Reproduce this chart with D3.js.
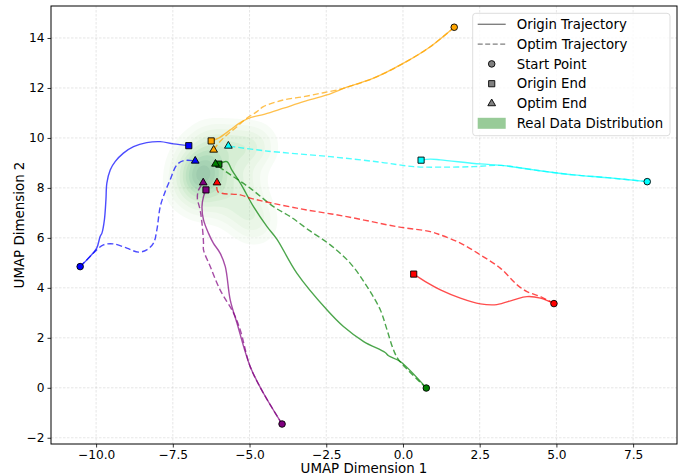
<!DOCTYPE html>
<html>
<head>
<meta charset="utf-8">
<script src="https://cdn.jsdelivr.net/npm/d3@7"></script>
<style>
  body { margin: 0; background: #fff; }
  text { font-family: 'DejaVu Sans', sans-serif; fill: #000; }
</style>
</head>
<body>
<svg id="chart"></svg>
<script>
// ---- data (UMAP coordinates) ----
const xTicks = [-10, -7.5, -5, -2.5, 0, 2.5, 5, 7.5];
const yTicks = [-2, 0, 2, 4, 6, 8, 10, 12, 14];

const blueOrigin = [[-10.52,4.85],[-10.2,5.25],[-9.98,5.59],[-9.87,6.05],[-9.81,6.19],[-9.73,6.72],[-9.68,7.52],[-9.65,8.19],[-9.54,8.72],[-9.38,9.05],[-9.11,9.39],[-8.78,9.65],[-8.35,9.81],[-7.91,9.85],[-7.48,9.76],[-6.98,9.69]];
const blueOptim = [[-10.52,4.85],[-10.2,5.25],[-9.98,5.52],[-9.76,5.72],[-9.44,5.76],[-9.0,5.59],[-8.62,5.43],[-8.35,5.52],[-8.13,5.79],[-8.02,6.32],[-7.91,7.25],[-7.75,7.85],[-7.59,8.32],[-7.37,8.92],[-7.15,9.09],[-6.77,9.08]];

const orangeOrigin = [[1.67,14.43],[0.89,13.65],[0.02,12.99],[-0.96,12.39],[-1.83,12.03],[-2.48,11.72],[-3.24,11.45],[-3.89,11.19],[-4.5,10.95],[-4.95,10.82],[-5.25,10.65],[-5.63,10.32],[-6.01,9.99],[-6.25,9.88]];
const orangeOptim = [[1.67,14.43],[0.89,13.65],[0.02,12.99],[-0.96,12.39],[-1.83,12.03],[-2.04,11.95],[-2.59,11.81],[-3.24,11.65],[-3.89,11.52],[-4.55,11.25],[-4.76,11.05],[-5.09,10.79],[-5.41,10.45],[-5.74,10.12],[-6.01,9.79],[-6.17,9.52]];

const cyanOrigin = [[7.96,8.25],[6.65,8.41],[5.56,8.52],[4.26,8.72],[3.28,8.89],[2.52,8.96],[1.22,9.12],[0.89,9.15],[0.59,9.11]];
const cyanOptim = [[7.96,8.25],[6.65,8.41],[5.56,8.52],[4.26,8.72],[3.2,8.9],[2.3,8.85],[1.22,8.83],[0.35,8.85],[-0.74,9.03],[-2.37,9.25],[-4.55,9.49],[-5.69,9.68]];

const greenOrigin = [[0.76,-0.01],[-0.09,1.05],[-0.47,1.28],[-0.58,1.41],[-1.28,1.85],[-1.94,2.45],[-2.48,3.12],[-3.46,4.59],[-4.11,5.95],[-4.43,6.45],[-4.87,7.25],[-5.3,8.19],[-5.58,8.72],[-5.74,9.05],[-6.0,8.95]];
const greenOptim = [[0.76,-0.01],[-0.14,1.12],[-0.31,1.52],[-0.52,2.32],[-0.74,3.12],[-1.17,4.05],[-1.72,4.99],[-2.37,5.72],[-3.08,6.32],[-3.67,6.85],[-4.22,7.25],[-4.98,7.99],[-5.85,8.72],[-6.11,8.96]];

const redOrigin = [[4.92,3.37],[4.48,3.59],[4.04,3.65],[3.61,3.52],[3.06,3.33],[2.52,3.36],[1.87,3.59],[1.22,3.92],[0.8,4.2],[0.35,4.55]];
const redOptim = [[4.92,3.37],[4.48,3.65],[4.04,3.85],[3.72,4.12],[3.17,4.79],[2.52,5.32],[1.87,5.79],[1.22,6.12],[0.89,6.25],[-0.2,6.45],[-1.83,6.85],[-3.46,7.19],[-4.98,7.59],[-5.3,7.72],[-6.03,7.85],[-6.06,8.21]];

const purpleOrigin = [[-3.94,-1.45],[-4.55,-0.21],[-4.98,0.85],[-5.41,2.59],[-5.63,3.52],[-5.79,4.85],[-5.96,5.39],[-6.18,5.79],[-6.34,6.19],[-6.5,6.72],[-6.55,7.25],[-6.5,7.65],[-6.42,7.92]];
const purpleOptim = [[-3.94,-1.45],[-4.55,-0.21],[-4.98,0.85],[-5.3,2.3],[-5.52,2.99],[-5.96,3.92],[-6.28,4.85],[-6.5,5.52],[-6.5,5.79],[-6.55,6.59],[-6.61,7.12],[-6.7,7.59],[-6.66,7.92],[-6.51,8.21]];

// real data samples behind the KDE
const realData = [
  [-6.6,8.6],[-6.5,8.4],[-6.7,8.8],[-6.4,8.9],[-6.6,8.1],[-6.3,8.5],[-6.8,8.4],[-6.5,9.1],
  [-6.2,8.2],[-6.7,7.9],[-6.4,8.7],[-6.55,8.5],[-6.1,9.3],[-5.9,8.7],[-6.9,9.2],[-7.0,8.6],
  [-6.2,7.7],[-6.0,9.6],[-6.5,9.5],[-5.8,8.1],[-7.1,8.0],[-6.6,7.5],[-6.3,9.9],[-5.7,9.8],
  [-4.9,9.7],[-4.8,9.6],[-5.2,9.7],[-5.5,9.4],[-5.3,8.7],[-5.1,8.1],[-5.4,7.6],
  [-4.9,6.8],[-4.85,6.6],[-5.1,7.2],[-5.7,7.2]
];
const densityLevels = [0.03, 0.08, 0.15, 0.24, 0.34, 0.45, 0.56, 0.68, 0.8, 0.92];

const trajectories = [
  { color: 'blue', origin: blueOrigin, optim: blueOptim },
  { color: 'orange', origin: orangeOrigin, optim: orangeOptim },
  { color: 'cyan', origin: cyanOrigin, optim: cyanOptim },
  { color: 'green', origin: greenOrigin, optim: greenOptim },
  { color: 'red', origin: redOrigin, optim: redOptim },
  { color: 'purple', origin: purpleOrigin, optim: purpleOptim }
];

const legendItems = ['Origin Trajectory', 'Optim Trajectory', 'Start Point', 'Origin End', 'Optim End', 'Real Data Distribution'];

// ---- chart ----
const config = {
  containerWidth: 682,
  containerHeight: 476,
  margin: { top: 6, right: 5, bottom: 32, left: 51 }
};
const width = config.containerWidth - config.margin.left - config.margin.right;
const height = config.containerHeight - config.margin.top - config.margin.bottom;

const svg = d3.select('#chart')
  .attr('width', config.containerWidth)
  .attr('height', config.containerHeight);

const chart = svg.append('g')
  .attr('transform', `translate(${config.margin.left}, ${config.margin.top})`);

const xScale = d3.scaleLinear().domain([-11.47, 8.93]).range([0, width]);
const yScale = d3.scaleLinear().domain([-2.25, 15.28]).range([height, 0]);

// grid
const grid = chart.append('g').attr('class', 'grid');
grid.selectAll('.gx').data(xTicks).join('line')
  .attr('x1', d => xScale(d)).attr('x2', d => xScale(d))
  .attr('y1', 0).attr('y2', height);
grid.selectAll('.gy').data(yTicks).join('line')
  .attr('y1', d => yScale(d)).attr('y2', d => yScale(d))
  .attr('x1', 0).attr('x2', width);
grid.selectAll('line')
  .attr('stroke', '#b0b0b0')
  .attr('stroke-opacity', 0.4)
  .attr('stroke-width', 0.8)
  .attr('stroke-dasharray', '2.5,1.5');

// density (kde) of the real data, filled levels as fractions of the peak
const kde = d3.contourDensity()
  .x(d => xScale(d[0]))
  .y(d => yScale(d[1]))
  .size([width, height])
  .cellSize(2)
  .bandwidth(11.5);

// find the peak with a fine pass, then contour at fixed fractions of it
const peak = d3.max(kde.thresholds(400)(realData), d => d.value);
const density = kde.thresholds(densityLevels.map(lv => lv * peak))(realData);

const densG = chart.append('g').attr('opacity', 0.42);
densG.selectAll('path').data(density).join('path')
  .attr('d', d3.geoPath())
  .attr('fill', (d, i) => d3.interpolateGreens(0.06 + 0.72 * i / (density.length - 1)));

// trajectories
const line = d3.line()
  .x(d => xScale(d[0]))
  .y(d => yScale(d[1]))
  .curve(d3.curveCatmullRom.alpha(0.5));

const lines = chart.append('g');
trajectories.forEach(t => {
  lines.append('path')
    .datum(t.origin)
    .attr('d', line)
    .attr('fill', 'none')
    .attr('stroke', t.color)
    .attr('stroke-opacity', 0.7)
    .attr('stroke-width', 1.4);
  lines.append('path')
    .datum(t.optim)
    .attr('d', line)
    .attr('fill', 'none')
    .attr('stroke', t.color)
    .attr('stroke-opacity', 0.7)
    .attr('stroke-width', 1.4)
    .attr('stroke-dasharray', '6,3');
});

// markers
const circleSym = d3.symbol().type(d3.symbolCircle).size(34);
const squareSym = d3.symbol().type(d3.symbolSquare).size(38);
const triSym = d3.symbol().type(d3.symbolTriangle).size(26);

const marks = chart.append('g');
trajectories.forEach(t => {
  const start = t.origin[0];
  const oEnd = t.origin[t.origin.length - 1];
  const pEnd = t.optim[t.optim.length - 1];
  [[start, circleSym], [oEnd, squareSym], [pEnd, triSym]].forEach(([p, sym]) => {
    marks.append('path')
      .attr('d', sym())
      .attr('transform', `translate(${xScale(p[0])}, ${yScale(p[1])})`)
      .attr('fill', t.color)
      .attr('stroke', '#000')
      .attr('stroke-width', 0.9);
  });
});

// axes
const xAxis = d3.axisBottom(xScale).tickValues(xTicks).tickFormat(d3.format('.1f'))
  .tickSize(3.5).tickSizeOuter(0).tickPadding(3);
const yAxis = d3.axisLeft(yScale).tickValues(yTicks).tickFormat(d3.format('d'))
  .tickSize(3.5).tickSizeOuter(0).tickPadding(3);

const xAxisG = chart.append('g').attr('transform', `translate(0, ${height})`).call(xAxis);
const yAxisG = chart.append('g').call(yAxis);
[xAxisG, yAxisG].forEach(g => {
  g.select('.domain').remove();
  g.selectAll('text').attr('font-size', 12.2).attr('font-family', 'DejaVu Sans').attr('fill', '#000');
  g.selectAll('line').attr('stroke', '#000').attr('stroke-width', 0.8);
});

chart.append('rect')
  .attr('width', width).attr('height', height)
  .attr('fill', 'none').attr('stroke', '#000').attr('stroke-width', 1);

svg.append('text')
  .attr('x', config.margin.left + width / 2)
  .attr('y', 473)
  .attr('text-anchor', 'middle')
  .attr('font-size', 13.4)
  .text('UMAP Dimension 1');

svg.append('text')
  .attr('transform', `translate(24, ${config.margin.top + height / 2}) rotate(-90)`)
  .attr('text-anchor', 'middle')
  .attr('font-size', 13.4)
  .text('UMAP Dimension 2');

// legend
const legend = svg.append('g').attr('transform', 'translate(472.7, 13.3)');
legend.append('rect')
  .attr('width', 197.3).attr('height', 122.4).attr('rx', 3)
  .attr('fill', '#fff').attr('fill-opacity', 0.8)
  .attr('stroke', '#d4d4d4').attr('stroke-width', 0.8);

const rowY = i => 11 + i * 19.8;
legendItems.forEach((label, i) => {
  legend.append('text')
    .attr('x', 44)
    .attr('y', rowY(i))
    .attr('dy', '0.35em')
    .attr('font-size', 13.3)
    .text(label);
});
legend.append('line')
  .attr('x1', 5).attr('x2', 33).attr('y1', rowY(0)).attr('y2', rowY(0))
  .attr('stroke', 'gray').attr('stroke-width', 1.4);
legend.append('line')
  .attr('x1', 5).attr('x2', 33).attr('y1', rowY(1)).attr('y2', rowY(1))
  .attr('stroke', 'gray').attr('stroke-width', 1.4).attr('stroke-dasharray', '5,2.5');
[circleSym, squareSym, triSym].forEach((sym, k) => {
  legend.append('path')
    .attr('d', sym())
    .attr('transform', `translate(19, ${rowY(k + 2)})`)
    .attr('fill', 'gray')
    .attr('stroke', '#000')
    .attr('stroke-width', 0.9);
});
legend.append('rect')
  .attr('x', 5).attr('y', rowY(5) - 5.5)
  .attr('width', 28).attr('height', 11)
  .attr('fill', '#98cb98');
</script>
</body>
</html>
